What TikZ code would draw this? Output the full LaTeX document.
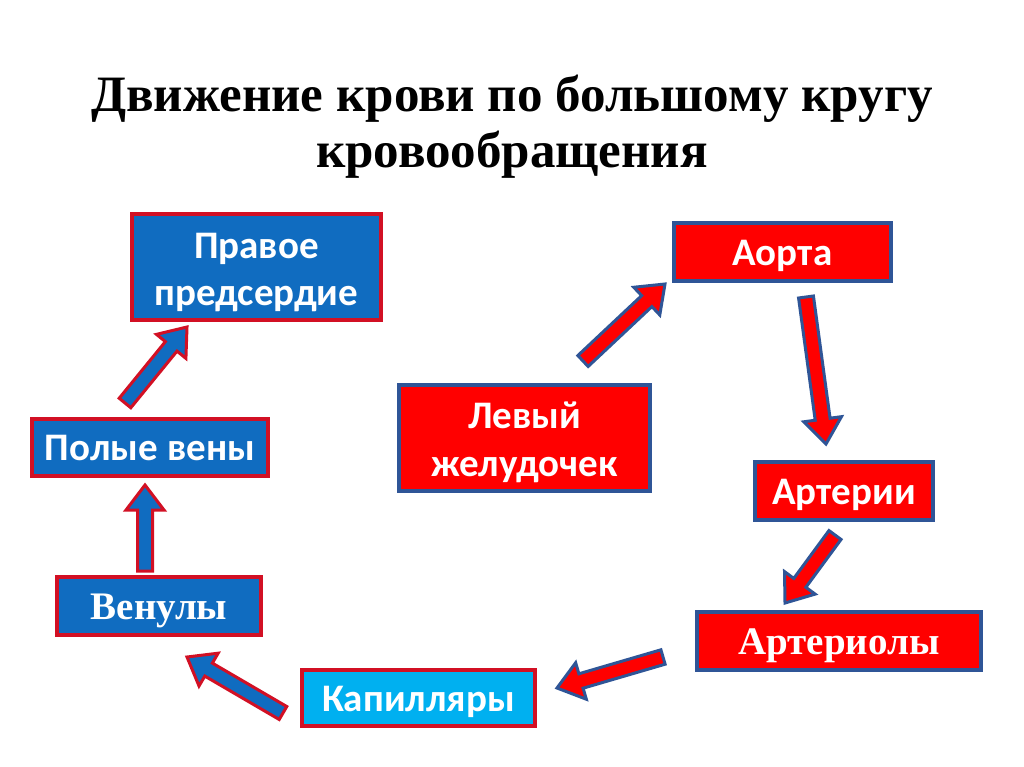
\documentclass[tikz,border=0pt]{standalone}
\usepackage{fontspec}
\setmainfont{Liberation Serif}
\newfontfamily\calib{Carlito}
\usetikzlibrary{calc}
\definecolor{boxblue}{RGB}{16,108,192}
\definecolor{lightblue}{RGB}{0,176,240}
\definecolor{boxred}{RGB}{255,0,0}
\definecolor{edgered}{RGB}{210,16,36}
\definecolor{edgeblue}{RGB}{47,85,151}
\newcommand{\topst}{\rule{0pt}{42pt}}
\newcommand{\botst}{\rule[-12pt]{0pt}{12pt}}
\tikzset{
  basebox/.style={rectangle, line width=4pt, text=white, align=center, inner sep=0pt, font=\calib\bfseries\fontsize{39}{47.5}\selectfont},
  oneline/.style={text height=36pt, text depth=10pt},
  bluebox/.style={basebox, draw=edgered, fill=boxblue},
  cyanbox/.style={bluebox, fill=lightblue},
  redbox/.style={basebox, draw=edgeblue, fill=boxred},
  serifbox/.style={font=\bfseries\fontsize{39}{46}\selectfont},
  bluearrow/.style={fill=boxblue, draw=edgered, line width=3pt, line join=miter},
  redarrow/.style={fill=boxred, draw=edgeblue, line width=3pt, line join=miter},
  titletext/.style={font=\bfseries\fontsize{51}{60}\selectfont, text=black, anchor=base, inner sep=0pt}
}
\newcommand{\blockarr}[3]{%
  \path ($(#3)!25pt!(#2)$) coordinate (bah);
  \filldraw[#1] ($(#2)!7.5pt!90:(#3)$) -- ($(bah)!7.5pt!90:(#3)$) -- ($(bah)!19pt!90:(#3)$) -- (#3) -- ($(bah)!19pt!-90:(#3)$) -- ($(bah)!7.5pt!-90:(#3)$) -- ($(#2)!7.5pt!-90:(#3)$) -- cycle;
}
\begin{document}
\begin{tikzpicture}[x=1pt,y=-1pt]
\useasboundingbox[fill=white] (0,0) rectangle (1024,767);
% title
\node[titletext] (t1) at (512,112) {Движение крови по большому кругу};
\node[titletext] (t2) at (512,168) {кровообращения};
% boxes
\node[bluebox, minimum width=249, minimum height=106] (pp) at (256.5,267) {\topst Правое\\предсердие\botst};
\node[bluebox, oneline, minimum width=236, minimum height=57] (pv) at (150,447.5) {Полые вены};
\node[bluebox, oneline, serifbox, minimum width=204, minimum height=58] (ven) at (159,606) {Венулы};
\node[cyanbox, oneline, minimum width=233, minimum height=56] (kap) at (418.5,698) {Капилляры};
\node[redbox, minimum width=251, minimum height=106] (lzh) at (524.5,437.5) {\topst Левый\\желудочек\botst};
\node[redbox, oneline, minimum width=217, minimum height=58] (aor) at (782.5,252) {Аорта};
\node[redbox, oneline, minimum width=178, minimum height=58] (art) at (844,491) {Артерии};
\node[redbox, oneline, serifbox, minimum width=284, minimum height=58] (arl) at (839,641) {Артериолы};
% arrow end points
\coordinate (a1s) at (125,403); \coordinate (a1e) at (187,327);
\coordinate (a2s) at (145,571); \coordinate (a2e) at (145,485);
\coordinate (a3s) at (283,713); \coordinate (a3e) at (187,657);
\coordinate (a4s) at (663,657); \coordinate (a4e) at (557,688);
\coordinate (a5s) at (835,535); \coordinate (a5e) at (785,603);
\coordinate (a6s) at (806,297); \coordinate (a6e) at (826,444);
\coordinate (a7s) at (583,361); \coordinate (a7e) at (665,284);
% arrows
\blockarr{bluearrow}{a1s}{a1e}
\blockarr{bluearrow}{a2s}{a2e}
\blockarr{bluearrow}{a3s}{a3e}
\blockarr{redarrow}{a4s}{a4e}
\blockarr{redarrow}{a5s}{a5e}
\blockarr{redarrow}{a6s}{a6e}
\blockarr{redarrow}{a7s}{a7e}
\end{tikzpicture}
\end{document}
